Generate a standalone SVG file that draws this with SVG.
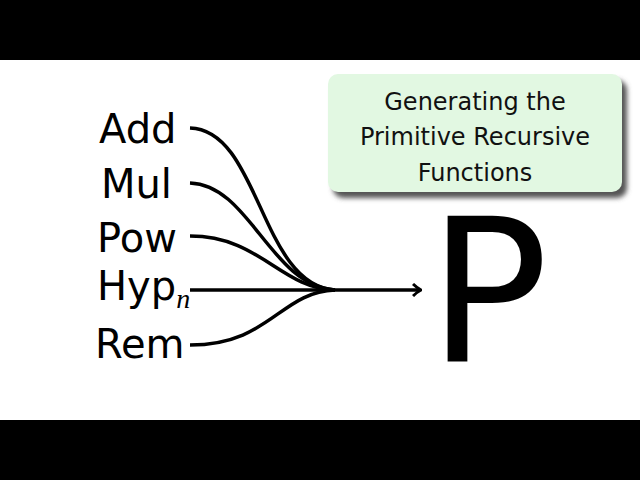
<svg xmlns="http://www.w3.org/2000/svg" width="640" height="480" viewBox="0 0 640 480">
<style>
.lbl{font-family:"DejaVu Sans","Liberation Sans",sans-serif;font-size:40px;fill:#000}
.t{font-family:"DejaVu Sans","Liberation Sans",sans-serif;font-size:24px;fill:#111;text-anchor:middle}
.c{fill:none;stroke:#000;stroke-width:3.5}
</style>
<defs>
<marker id="ah" markerWidth="10" markerHeight="14" refX="8" refY="7" orient="auto" markerUnits="userSpaceOnUse">
<path d="M1,1 Q5,5 9,7 Q5,9 1,13" fill="none" stroke="#000" stroke-width="3"/>
</marker>
<filter id="sh" x="-10%" y="-10%" width="130%" height="140%"><feGaussianBlur stdDeviation="2.5"/></filter>
</defs>
<rect x="0" y="0" width="640" height="480" fill="#fff"/>
<rect x="0" y="0" width="640" height="60" fill="#000"/>
<rect x="0" y="420" width="640" height="60" fill="#000"/>
<g id="title">
<rect x="333" y="80" width="294" height="118" rx="10" fill="#555" filter="url(#sh)"/>
<rect x="328" y="74" width="294" height="118" rx="10" fill="#e2f8e2"/>
<text class="t" x="475" y="110">Generating the</text>
<text class="t" x="475" y="145">Primitive Recursive</text>
<text class="t" x="475" y="181">Functions</text>
</g>
<g id="add"><text class="lbl" x="99" y="143">Add</text></g>
<g id="mul"><text class="lbl" x="101" y="198">Mul</text></g>
<g id="pow"><text class="lbl" x="97" y="252">Pow</text></g>
<g id="hyp"><text class="lbl" x="97" y="300">Hyp<tspan font-style="italic" font-size="28" font-family="Liberation Serif,serif" dy="8">n</tspan></text></g>
<g id="rem"><text class="lbl" x="95" y="358">Rem</text></g>
<g id="P"><text x="428" y="362" font-family="DejaVu Sans,Liberation Sans,sans-serif" font-size="200" fill="#000">P</text></g>
<g id="connectors">
<path class="c" d="M190,128 C260,130 260,285 335,290"/>
<path class="c" d="M190,183 C250,185 270,285 335,290"/>
<path class="c" d="M190,236 C260,236 280,288 335,290"/>
<path class="c" d="M190,345 C270,345 280,292 335,290"/>
<path class="c" d="M190,290 L420,290" marker-end="url(#ah)"/>
</g>
</svg>
